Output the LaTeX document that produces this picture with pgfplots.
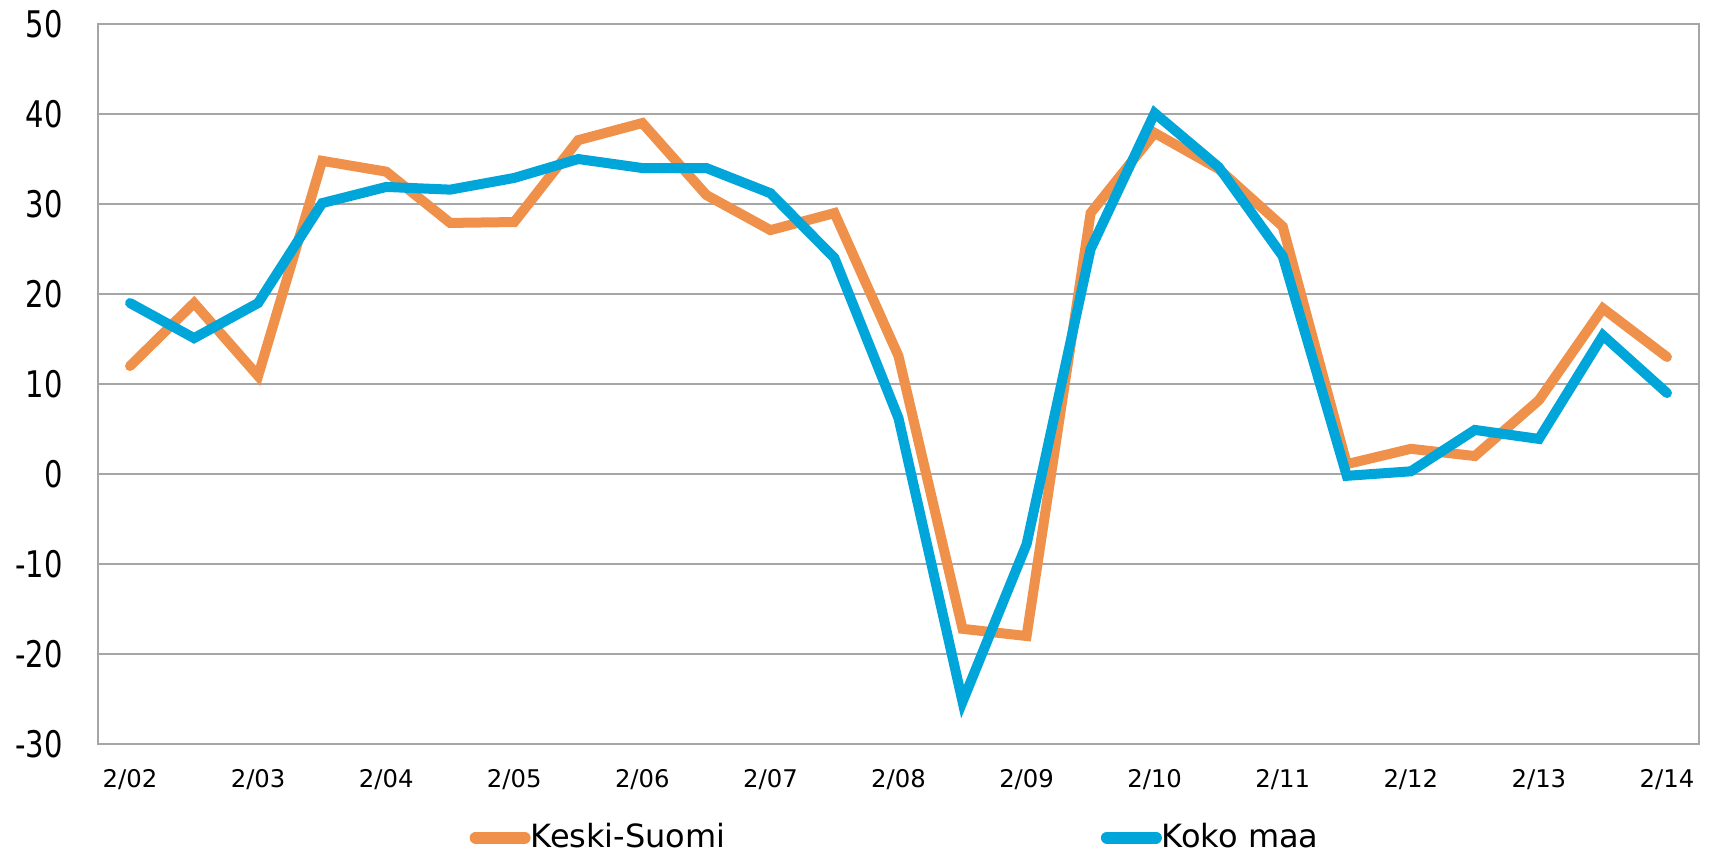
\documentclass[border=0pt]{standalone}
\usepackage{fontspec}
\setmainfont{DejaVu Sans}
\usepackage{graphicx}
\usepackage{pgfplots}
\pgfplotsset{compat=1.18}
\definecolor{ks}{RGB}{240,145,75}
\definecolor{km}{RGB}{0,165,218}
\definecolor{gridc}{RGB}{166,166,166}
\begin{document}
\begin{tikzpicture}
\useasboundingbox (-29.4pt,-32.4pt) rectangle (484.2pt,223.2pt);
\begin{axis}[
  at={(0pt,0pt)}, anchor=south west,
  scale only axis, width=480.3pt, height=216pt,
  xmin=-0.5, xmax=24.5, ymin=-30, ymax=50,
  xtick={0,2,...,24},
  xticklabels={2/02,2/03,2/04,2/05,2/06,2/07,2/08,2/09,2/10,2/11,2/12,2/13,2/14},
  ytick={-30,-20,...,50},
  yticklabel={\scalebox{0.79}[1]{\pgfmathprintnumber[assume math mode=true]{\tick}}},
  major tick length=0pt,
  ymajorgrids, grid style={gridc, line width=0.7pt},
  axis line style={gridc, line width=0.7pt},
  xticklabel style={font=\fontsize{7.3}{8}\selectfont, anchor=north, inner sep=0pt, yshift=-7.3pt},
  yticklabel style={font=\fontsize{11}{13}\selectfont, anchor=east, inner sep=0pt, xshift=-10.4pt},
  legend columns=2,
  legend style={draw=none, fill=none, at={(0.2317,-0.130)}, anchor=west, inner sep=0pt,
    font=\fontsize{9.6}{11}\selectfont, nodes={inner sep=0pt},
    /tikz/column 1/.style={column sep=0pt},
    /tikz/column 2/.style={column sep=112.6pt},
    /tikz/column 3/.style={column sep=0pt}},
  legend image code/.code={\draw[#1, line width=3.6pt, line cap=round] (0pt,0pt) -- (14.7pt,0pt);},
  every axis plot/.append style={line width=3pt, line cap=round, line join=miter, mark=none},
]
\addplot[ks] coordinates {
(0,12) (1,19) (2,10.9) (3,34.8) (4,33.6) (5,27.9) (6,28) (7,37.1) (8,39) (9,31)
(10,27.1) (11,29) (12,13.1) (13,-17.2) (14,-18) (15,29) (16,37.9) (17,33.9) (18,27.5) (19,1.1)
(20,2.8) (21,2.0) (22,8.2) (23,18.4) (24,13)};
\addlegendentry{Keski-Suomi}
\addplot[km] coordinates {
(0,19) (1,15.1) (2,19) (3,30.1) (4,31.9) (5,31.6) (6,32.9) (7,35) (8,34) (9,34)
(10,31.2) (11,24) (12,6.2) (13,-25.3) (14,-7.8) (15,25) (16,40.1) (17,34.1) (18,24.2) (19,-0.2)
(20,0.3) (21,4.9) (22,3.9) (23,15.4) (24,9)};
\addlegendentry{Koko maa}
\end{axis}
\end{tikzpicture}
\end{document}
